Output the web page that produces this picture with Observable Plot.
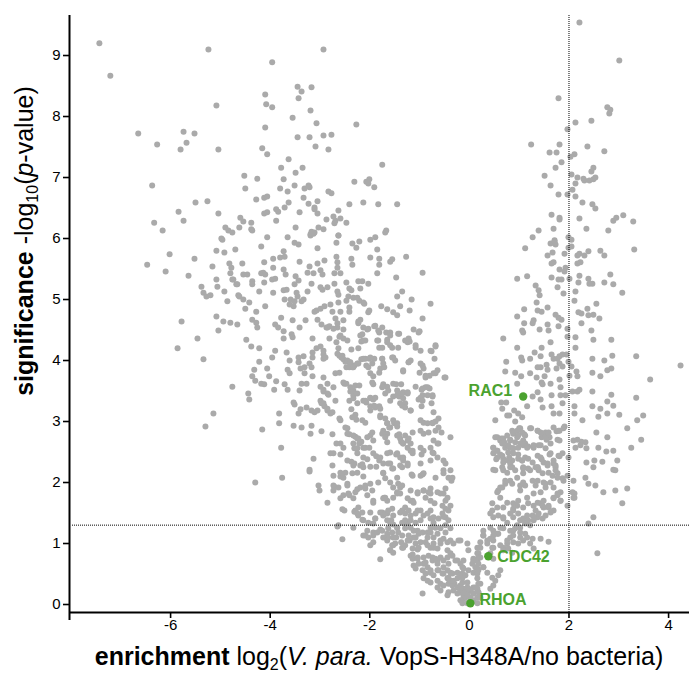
<!DOCTYPE html>
<html>
<head>
<meta charset="utf-8">
<script src="https://cdn.jsdelivr.net/npm/d3@7"></script>
<script src="https://cdn.jsdelivr.net/npm/@observablehq/plot@0.6"></script>
<style>
  body { margin: 0; background: #fff; }
  #chart { width: 689px; height: 675px; }
</style>
</head>
<body>
<div id="chart"></div>
<script>
// Volcano plot: enrichment (log2 fold change) vs significance (-log10 p)
// Each protein is [log2 enrichment, -log10(p-value)].

const xTicks = [-6, -4, -2, 0, 2, 4];
const yTicks = [0, 1, 2, 3, 4, 5, 6, 7, 8, 9];
const foldCutoff = 2;      // log2 enrichment threshold
const pCutoff = 0.05;      // significance threshold

// far-left, strongly depleted proteins
const upperLeft = [
  [-7.43,9.20],[-7.21,8.67],[-5.24,9.10],[-5.08,8.18],[-6.65,7.72],[-6.27,7.54],[-5.74,7.75],[-5.52,7.72],
  [-5.68,7.57],[-5.80,7.46],[-5.04,7.46],[-6.37,6.87],[-5.50,6.59],[-5.26,6.61],[-5.84,6.44],[-5.04,6.41],
  [-6.33,6.26],[-5.74,6.29],[-6.16,6.13],[-4.90,6.18],[-4.84,6.13],[-4.76,6.10],[-4.98,6.00],[-4.62,6.18],
  [-4.60,6.34],[-6.47,5.57],[-6.02,5.74],[-6.10,5.46],[-5.52,5.67],[-5.64,5.39],[-5.08,5.80],[-4.92,5.77],
  [-4.96,5.98],[-5.16,5.54],[-4.82,5.59],[-4.78,5.52],[-4.80,5.43],[-5.38,5.21],[-5.34,5.11],[-5.28,5.05],
  [-5.20,5.07],[-5.08,5.33],[-5.06,5.21],[-4.92,5.13],[-4.76,5.33],[-4.68,5.25],[-4.86,4.97],[-4.64,5.07],
  [-5.78,4.64],[-5.08,4.72],[-4.94,4.64],[-4.80,4.62],[-4.66,4.59],[-5.04,4.49],[-5.46,4.36],[-5.86,4.20],
  [-5.34,4.02],[-4.76,3.57],[-5.14,3.13],[-5.30,2.92],[-4.70,5.82],[-4.56,5.59],[-4.54,5.41],[-4.74,5.33],
  [-4.66,5.25],[-4.62,5.05],[-4.54,5.00],[-4.54,6.28]
];

// depleted proteins with high significance
const upperCenter = [
  [-2.93,9.10],[-3.96,8.89],[-3.45,8.49],[-3.37,8.41],[-3.17,8.48],[-3.43,8.30],[-4.10,8.36],[-4.08,8.20],
  [-3.96,8.15],[-3.19,8.10],[-3.55,7.98],[-3.07,7.89],[-2.27,7.87],[-4.10,7.82],[-3.45,7.66],[-3.21,7.66],
  [-2.93,7.69],[-2.77,7.70],[-3.09,7.51],[-2.83,7.46],[-4.16,7.48],[-4.06,7.38],[-3.63,7.30],[-3.78,7.16],
  [-3.35,7.16],[-1.75,7.21],[-3.49,7.08],[-4.52,7.03],[-4.26,6.98],[-3.73,6.97],[-2.31,6.93],[-2.07,6.93],
  [-2.01,6.97],[-2.03,6.90],[-1.91,6.84],[-4.50,6.82],[-3.80,6.82],[-3.51,6.87],[-3.65,6.77],[-3.31,6.82],
  [-3.23,6.87],[-3.21,6.84],[-2.83,6.77],[-2.77,6.74],[-4.28,6.64],[-4.12,6.67],[-4.06,6.69],[-3.33,6.67],
  [-3.63,6.59],[-3.23,6.57],[-3.05,6.61],[-2.41,6.56],[-2.13,6.59],[-1.83,6.56],[-1.45,6.56],[-3.71,6.51],
  [-3.11,6.51],[-3.11,6.48],[-2.63,6.46],[-4.12,6.41],[-4.06,6.43],[-3.88,6.48],[-3.84,6.44],[-3.41,6.43],
  [-3.05,6.41],[-4.38,6.26],[-3.88,6.29],[-2.87,6.31],[-2.73,6.36],[-2.69,6.29],[-2.71,6.25],[-2.59,6.33],
  [-2.47,6.26],[-4.38,6.15],[-3.49,6.18],[-3.03,6.18],[-3.17,6.11],[-3.11,6.10],[-3.19,6.05],[-2.93,6.15],
  [-2.63,6.05],[-1.67,6.13],[-1.69,6.10],[-4.06,6.02],[-3.65,6.02],[-1.99,5.98],[-1.89,6.02]
];

// depleted proteins, moderate significance
const middleLeft = [
  [-4.36,6.13],[-3.51,5.93],[-3.43,5.90],[-3.19,6.07],[-3.13,6.08],[-2.63,6.05],[-2.67,5.93],[-2.35,5.92],
  [-2.27,5.85],[-2.21,5.95],[-4.18,5.87],[-3.05,5.84],[-1.85,5.82],[-4.12,5.61],[-3.94,5.67],[-3.80,5.69],
  [-3.71,5.70],[-3.73,5.79],[-3.94,5.52],[-3.73,5.49],[-3.69,5.41],[-3.41,5.62],[-3.21,5.54],[-3.05,5.59],
  [-2.91,5.64],[-2.67,5.70],[-2.65,5.61],[-2.65,5.52],[-2.37,5.67],[-2.35,5.57],[-1.99,5.69],[-1.81,5.67],
  [-1.81,5.57],[-1.59,5.62],[-1.55,5.66],[-1.27,5.70],[-4.18,5.43],[-4.14,5.44],[-4.46,5.41],[-3.90,5.34],
  [-3.96,5.33],[-1.85,5.43],[-0.94,5.44],[-1.47,5.36],[-4.36,5.30],[-4.36,5.25],[-4.10,5.41],[-4.12,5.28],
  [-3.49,5.38],[-3.51,5.25],[-3.43,5.31],[-3.25,5.44],[-3.13,5.43],[-2.99,5.48],[-2.95,5.41],[-2.71,5.43],
  [-2.59,5.43],[-3.17,5.26],[-2.99,5.20],[-2.95,5.16],[-2.85,5.20],[-2.71,5.26],[-2.47,5.28],[-2.41,5.18],
  [-2.37,5.15],[-2.23,5.30],[-2.15,5.30],[-2.19,5.18],[-2.03,5.26],[-3.94,5.11],[-3.73,5.15],[-3.67,5.16],
  [-3.47,5.11],[-3.45,5.05],[-3.25,5.13],[-2.65,5.13],[-2.63,5.08],[-2.43,5.05],[-4.22,5.13],[-1.35,5.13],
  [-1.45,5.05],[-4.42,4.95],[-4.50,4.85],[-4.10,4.89],[-4.28,4.80],[-3.71,5.00],[-3.59,5.00],[-3.37,4.97],
  [-3.33,5.00],[-3.61,4.92],[-3.51,4.97],[-3.53,4.89],[-3.07,4.82],[-2.99,4.85],[-2.91,4.89],[-3.11,4.80],
  [-2.79,4.92],[-2.63,4.95],[-2.47,4.98],[-2.75,4.80],[-2.59,4.80],[-2.41,4.80],[-2.33,5.03],[-2.25,5.03],
  [-2.21,4.98],[-2.13,4.95],[-2.11,4.93],[-2.41,4.87],[-2.03,4.79],[-2.01,4.82],[-2.19,4.67],[-2.23,4.64],
  [-1.77,4.89],[-1.65,4.84],[-1.53,4.79],[-1.45,4.74],[-1.39,4.89],[-1.20,4.82],[-1.16,5.00],[-0.78,4.93],
  [-0.94,4.69],[-4.36,4.67],[-4.28,4.62],[-4.26,4.54],[-3.90,4.59],[-3.84,4.54],[-3.78,4.70],[-3.55,4.66],
  [-3.41,4.54],[-3.29,4.66],[-3.05,4.67],[-2.97,4.59],[-2.87,4.54],[-2.81,4.56],[-2.69,4.69],[-2.53,4.66],
  [-2.65,4.54],[-2.05,4.51],[-1.91,4.56],[-1.81,4.46],[-1.67,4.46],[-1.59,4.46],[-1.41,4.44],[-1.12,4.51],
  [-1.00,4.48],[-3.73,4.48],[-3.57,4.43],[-3.73,4.36],[-3.55,4.38],[-4.48,4.34],[-4.38,4.23],[-4.22,4.20],
  [-3.15,4.36],[-3.07,4.20],[-2.99,4.23],[-2.81,4.36],[-2.67,4.30],[-2.61,4.39],[-2.53,4.51],[-2.37,4.18],
  [-2.23,4.20],[-2.17,4.31],[-2.09,4.33],[-2.15,4.43],[-1.85,4.33],[-1.81,4.21],[-1.65,4.34],[-1.59,4.25],
  [-1.55,4.21],[-1.75,4.21],[-1.43,4.21],[-1.29,4.33],[-1.20,4.31],[-1.08,4.21],[-0.76,4.15],[-0.68,4.23],
  [-3.90,4.16],[-3.67,4.13],[-4.22,3.98],[-3.96,4.05],[-3.61,4.00],[-3.43,4.05],[-3.33,4.07],[-3.15,4.13],
  [-3.15,4.05],[-2.93,4.10],[-2.93,4.03],[-2.63,4.20],[-2.61,4.08],[-2.57,4.05],[-2.53,4.02],[-2.49,3.98],
  [-2.41,3.97],[-2.39,3.93],[-2.35,3.89],[-2.31,3.92],[-2.23,3.95],[-2.17,4.02],[-2.09,4.03],[-2.01,4.03],
  [-1.91,4.03],[-1.75,4.03],[-1.53,4.05],[-1.22,3.97],[-1.18,4.00],[-0.94,3.92],[-0.70,4.03],[-4.32,3.85],
  [-4.06,3.87],[-3.65,3.85],[-3.43,3.97],[-3.39,3.87],[-3.31,3.89],[-3.21,3.95],[-3.17,3.89],[-3.61,3.79],
  [-3.31,3.79],[-3.15,3.74],[-2.93,3.72],[-2.69,3.79],[-2.61,3.80],[-2.47,3.89],[-2.41,3.89],[-2.07,3.92],
  [-2.03,3.89],[-1.99,3.79],[-1.93,3.74],[-1.79,3.87],[-1.71,3.89],[-1.81,3.80],[-1.33,3.82],[-1.00,3.80],
  [-0.88,3.72],[-0.80,3.75],[-0.68,3.79],[-0.50,3.72],[-4.36,3.74],[-4.30,3.67],[-4.18,3.62],[-4.12,3.61],
  [-4.02,3.74],[-3.92,3.52],[-3.88,3.66],[-3.71,3.61],[-3.65,3.52],[-3.41,3.51],[-3.37,3.62],[-3.27,3.62],
  [-2.99,3.57],[-2.93,3.52],[-2.93,3.49],[-2.85,3.46],[-2.51,3.62],[-2.47,3.62],[-2.39,3.49],[-2.33,3.43],
  [-2.29,3.59],[-2.21,3.59],[-1.95,3.64],[-1.93,3.61],[-1.73,3.61],[-1.65,3.57],[-1.53,3.62],[-1.47,3.61],
  [-1.37,3.61],[-1.45,3.51],[-1.33,3.48],[-1.24,3.46],[-1.08,3.57],[-0.96,3.52],[-0.88,3.56],[-0.80,3.54],
  [-0.74,3.41],[-4.44,3.46],[-4.42,3.36],[-3.53,3.31],[-3.51,3.28],[-3.39,3.20],[-3.43,3.13],[-3.27,3.23],
  [-3.17,3.18],[-3.11,3.15],[-3.05,3.18],[-2.99,3.34],[-2.97,3.30],[-2.91,3.25],[-2.85,3.18],[-2.75,3.15],
  [-2.83,3.44],[-2.69,3.34],[-2.41,3.34],[-2.37,3.20],[-2.29,3.11],[-2.25,3.30],[-2.13,3.34],[-2.07,3.31],
  [-1.99,3.39],[-1.93,3.36],[-1.99,3.25],[-1.91,3.26],[-1.81,3.25],[-1.69,3.46],[-1.53,3.41],[-1.41,3.41],
  [-1.39,3.44],[-1.33,3.38],[-1.35,3.26],[-1.29,3.30],[-1.18,3.18],[-1.02,3.36],[-0.94,3.43],[-0.96,3.25],
  [-0.76,3.30],[-0.72,3.15],[-3.82,3.13],[-3.82,2.97],[-4.16,2.87],[-3.78,2.57],[-3.53,2.93],[-3.37,2.90],
  [-3.19,2.80],[-3.17,2.93],[-2.97,2.84],[-2.75,2.79],[-2.67,2.64],[-2.61,3.05],[-2.45,2.89],[-2.41,2.79],
  [-2.35,3.07],[-2.27,3.03],[-2.15,3.02],[-2.09,2.98],[-2.29,2.75],[-2.23,2.72],[-2.17,2.67],[-2.21,2.64],
  [-2.09,2.57],[-2.01,2.57],[-1.95,2.82],[-1.79,3.10],[-1.65,2.97],[-1.61,2.90],[-1.73,2.85],[-1.65,2.80],
  [-1.51,2.97],[-1.45,2.92],[-1.41,2.79],[-1.37,2.67],[-1.33,2.64],[-1.24,2.69],[-1.18,2.64],[-1.14,2.82],
  [-0.92,2.98],[-0.74,2.97],[-0.68,3.00],[-0.62,3.05],[-0.56,2.82],[-0.38,2.74],[-0.62,2.64],[-0.78,2.57],
  [-0.74,2.49],[-0.98,2.85],[-0.96,2.46],[-0.52,2.36],[-3.13,2.39],[-2.79,2.48],[-2.59,2.46],[-2.53,2.57],
  [-2.45,2.36],[-2.37,2.34],[-2.31,2.56],[-2.25,2.48],[-2.13,2.41],[-2.05,2.38],[-1.87,2.43],[-1.81,2.36],
  [-1.73,2.31],[-1.59,2.49],[-1.47,2.46],[-1.39,2.41],[-1.33,2.36],[-1.24,2.31],[-1.14,2.52],[-3.21,2.21]
];

// dense core of the depleted arm
const centerCore = [
  [-2.85,4.54],[-2.73,4.52],[-2.65,4.61],[-2.59,4.41],[-2.53,4.36],[-2.45,4.33],[-2.23,4.61],[-2.13,4.54],
  [-2.03,4.52],[-2.19,4.41],[-2.13,4.33],[-1.89,4.57],[-1.83,4.49],[-1.75,4.54],[-1.83,4.33],[-1.65,4.30],
  [-1.59,4.41],[-1.43,4.44],[-1.24,4.30],[-1.22,4.36],[-1.02,4.46],[-1.08,4.25],[-0.98,4.16],[-0.78,4.16],
  [-0.68,4.25],[-2.93,4.16],[-2.89,4.05],[-2.65,4.11],[-2.55,4.08],[-2.45,4.00],[-2.39,3.97],[-2.33,3.89],
  [-2.25,3.95],[-2.13,4.03],[-1.99,4.05],[-1.95,3.95],[-1.75,4.03],[-1.73,3.95],[-1.55,4.05],[-1.49,4.00],
  [-1.33,3.84],[-1.22,3.97],[-0.98,3.95],[-0.92,3.87],[-0.88,3.75],[-0.72,3.79],[-0.64,3.84],[-0.48,3.72],
  [-2.85,3.62],[-2.73,3.56],[-2.53,3.64],[-2.39,3.56],[-2.33,3.51],[-2.33,3.38],[-2.25,3.46],[-2.09,3.34],
  [-1.99,3.38],[-1.89,3.39],[-1.99,3.18],[-1.89,3.23],[-1.79,3.21],[-1.75,3.56],[-1.63,3.51],[-1.59,3.34],
  [-1.45,3.43],[-1.35,3.46],[-1.24,3.48],[-1.39,3.30],[-1.29,3.23],[-1.18,3.18],[-0.98,3.39],[-0.94,3.34],
  [-0.84,3.43],[-0.94,3.54],[-0.84,3.56],[-0.74,3.43],[-2.93,3.30],[-2.85,3.21],[-2.79,3.13],[-2.59,3.02],
  [-2.49,2.90],[-2.45,2.80],[-2.33,2.77],[-2.25,2.72],[-2.19,2.66],[-2.13,2.57],[-2.33,2.64],[-2.25,2.56],
  [-2.05,2.74],[-1.99,2.77],[-1.93,2.69],[-1.79,3.07],[-1.69,3.05],[-1.65,2.97],[-1.59,2.90],[-1.53,3.02],
  [-1.45,2.97],[-1.75,2.80],[-1.69,2.74],[-1.65,2.66],[-1.45,2.77],[-1.39,2.72],[-1.33,2.64],[-1.29,2.77],
  [-1.22,2.72],[-1.24,2.57],[-1.18,2.52],[-1.14,2.48],[-0.98,3.02],[-0.84,2.97],[-0.74,2.98],[-0.92,2.80],
  [-0.82,2.82],[-0.68,2.85],[-0.62,2.90],[-0.72,2.69],[-0.64,2.64],[-0.98,2.57],[-0.92,2.52],[-1.93,2.48],
  [-1.79,2.41],[-1.65,2.48],[-2.59,2.64],[-2.73,2.48],[-1.45,2.48],[-1.33,2.41],[-0.72,2.48],[-0.64,2.41]
];

// depleted side, low significance down to the valley
const lowerLeft = [
  [-4.30,2.00],[-3.76,2.08],[-3.21,2.18],[-3.03,1.95],[-3.01,1.87],[-2.85,1.67],[-2.75,2.28],[-2.59,2.10],
  [-2.49,2.16],[-2.71,1.93],[-2.63,1.92],[-2.45,1.98],[-2.41,1.79],[-2.59,1.74],[-2.63,1.30],[-2.65,1.28],
  [-2.55,1.07],[-2.55,1.56],[-2.51,1.54],[-2.35,2.15],[-2.25,2.16],[-2.13,2.25],[-2.31,2.31],[-2.19,2.28],
  [-1.99,2.26],[-1.87,2.26],[-2.29,1.84],[-2.25,1.89],[-2.09,1.90],[-2.05,1.79],[-2.31,1.52],[-2.23,1.46],
  [-2.15,1.39],[-1.99,1.51],[-1.89,1.41],[-2.09,1.13],[-2.03,1.10],[-1.93,1.18],[-1.79,0.74],[-1.83,2.00],
  [-1.73,2.15],[-1.93,1.67],[-1.71,1.75],[-1.65,1.70],[-1.53,1.75],[-1.45,1.82],[-1.39,1.92],[-1.59,2.31],
  [-1.53,2.23],[-1.39,2.28],[-1.16,2.13],[-0.94,2.13],[-1.79,1.51],[-1.73,1.46],[-1.65,1.49],[-1.57,1.38],
  [-1.53,1.31],[-1.45,1.26],[-1.33,1.34],[-1.24,1.33],[-1.18,1.26],[-1.79,1.23],[-1.65,1.16],[-1.63,1.10],
  [-1.47,1.10],[-1.37,1.02],[-1.33,0.93],[-1.59,0.89],[-1.53,0.97],[-1.20,1.05],[-1.12,1.10],[-1.08,1.00],
  [-1.04,0.90],[-1.14,0.82],[-1.04,0.75],[-0.94,0.18],[-0.92,0.67],[-0.84,0.61],[-0.78,0.52],[-0.74,0.77],
  [-0.64,0.72],[-0.62,0.56],[-0.54,0.51],[-0.44,0.43],[-0.52,0.61],[-0.38,0.52],[-0.38,0.39],[-0.30,0.34],
  [-0.22,0.28],[-0.18,0.23],[-0.12,0.18],[-0.08,0.11],[-0.64,0.28],[-0.58,0.23],[-0.14,0.51],[-0.18,0.67],
  [-0.72,0.93],[-0.58,1.00],[-0.44,1.02],[-1.04,1.21],[-0.94,1.18],[-0.84,1.18],[-0.78,1.26],[-0.72,1.34],
  [-0.62,1.41],[-0.52,1.44],[-0.42,1.54],[-0.38,1.62],[-0.48,1.70],[-0.52,1.82],[-1.04,1.82],[-0.92,1.87],
  [-0.78,1.82],[-0.52,2.15],[-0.42,2.08],[-0.36,2.03],[-1.18,1.70],[-1.29,1.59],[-1.39,1.51],[-1.08,1.49],
  [-0.98,1.54],[-0.78,1.54],[-0.70,1.66],[-0.44,0.89],[-0.38,0.84],[-0.24,0.72],[-0.18,1.05]
];

// crowded valley between the two arms
const valleyLeft = [
  [-2.33,2.28],[-2.15,2.30],[-1.63,2.31],[-1.55,2.23],[-1.35,2.25],[-1.24,2.28],[-0.98,2.31],[-0.78,2.36],
  [-0.48,2.31],[-0.52,2.20],[-2.73,2.11],[-2.59,2.16],[-2.53,2.08],[-2.13,2.10],[-1.73,2.16],[-1.69,2.07],
  [-1.45,2.08],[-1.43,1.98],[-1.14,2.11],[-0.98,2.11],[-0.92,2.15],[-0.68,2.08],[-0.38,2.20],[-0.34,2.08],
  [-2.73,1.95],[-2.45,1.95],[-2.43,1.82],[-2.19,1.92],[-2.09,1.95],[-1.99,1.98],[-1.95,1.87],[-1.59,2.00],
  [-1.53,1.92],[-1.45,1.84],[-1.35,1.95],[-1.39,1.82],[-1.18,1.87],[-1.04,1.84],[-0.92,1.87],[-0.82,1.84],
  [-0.78,1.90],[-0.64,1.84],[-0.58,1.82],[-0.48,1.90],[-0.44,1.75],[-2.73,1.87],[-2.53,1.79],[-2.33,1.74],
  [-1.73,1.74],[-1.69,1.75],[-1.24,1.74],[-1.14,1.70],[-1.12,1.67],[-0.88,1.75],[-0.78,1.70],[-2.29,1.54],
  [-2.25,1.49],[-2.15,1.51],[-2.23,1.59],[-1.93,1.70],[-1.75,1.51],[-1.69,1.49],[-1.63,1.54],[-1.55,1.57],
  [-1.53,1.46],[-1.35,1.54],[-1.29,1.49],[-1.22,1.54],[-1.18,1.46],[-1.04,1.54],[-0.92,1.46],[-0.84,1.49],
  [-0.78,1.41],[-0.72,1.43],[-0.54,1.62],[-0.48,1.57],[-0.54,1.49],[-0.48,1.43],[-0.42,1.38],[-2.13,1.38],
  [-2.03,1.34],[-1.89,1.41],[-1.93,1.33],[-1.65,1.38],[-1.59,1.34],[-1.35,1.34],[-1.29,1.38],[-1.18,1.38],
  [-1.08,1.34],[-0.98,1.38],[-2.33,1.26],[-2.05,1.21],[-2.13,1.13],[-1.93,1.13],[-1.85,1.18],[-1.75,1.21],
  [-1.73,1.10],[-1.65,1.05],[-1.63,1.25],[-1.55,1.18],[-1.53,1.10],[-1.45,1.26],[-1.43,1.18],[-1.35,1.13],
  [-1.29,1.25],[-1.24,1.05],[-1.22,1.13],[-1.12,1.21],[-1.08,1.10],[-1.02,1.16],[-0.98,1.02],[-0.88,1.02],
  [-0.84,1.10],[-0.78,1.18],[-0.72,1.10],[-0.64,1.16],[-0.58,1.05],[-0.52,1.08],[-0.68,1.26],[-0.58,1.25],
  [-0.48,1.30],[-0.48,1.18],[-0.38,1.25],[-1.99,0.97],[-1.93,1.02],[-1.55,0.97],[-1.49,1.00],[-1.35,0.93],
  [-1.29,0.97],[-1.14,0.92],[-1.02,0.93],[-0.84,0.97],[-0.78,0.93],[-0.72,1.00],[-0.64,0.92],[-0.38,1.05],
  [-0.32,1.00],[-0.22,1.05],[-0.04,1.00],[-0.02,0.89],[-1.59,0.89],[-1.53,0.85],[-1.18,0.80],[-1.14,0.75],
  [-1.04,0.77],[-1.02,0.67],[-0.92,0.77],[-0.88,0.69],[-0.82,0.80],[-1.12,0.64],[-1.08,0.59],[-0.74,0.72],
  [-0.68,0.75],[-0.64,0.67],[-0.58,0.77],[-0.52,0.72],[-0.44,0.77],[-0.42,0.67],[-0.34,0.80],[-0.28,0.72],
  [-0.14,0.61],[-0.12,0.72],[0.16,0.72],[0.18,0.84],[-0.94,0.56],[-0.88,0.51],[-0.78,0.56],[-0.72,0.48],
  [-0.64,0.56],[-0.52,0.51],[-0.44,0.56],[-0.42,0.44],[-0.34,0.51],[-0.24,0.52],[-0.18,0.48],[-0.24,0.43],
  [-0.02,0.56],[0.08,0.52],[0.16,0.59],[-0.92,0.43],[-0.84,0.39],[-0.78,0.36],[-0.64,0.39],[-0.58,0.34],
  [-0.52,0.31],[-0.42,0.34],[-0.34,0.31],[-0.32,0.39],[-0.24,0.28],[-0.18,0.31],[-0.12,0.26],[-0.14,0.36],
  [-0.04,0.28],[0.02,0.23],[0.08,0.28],[0.16,0.26],[-0.42,0.20],[-0.32,0.23],[-0.24,0.18],[-0.18,0.20],
  [-0.12,0.15],[-0.04,0.18],[0.02,0.11],[-0.12,0.10],[0.08,0.18],[0.16,0.11],[0.18,0.20],[-0.44,0.15],
  [-0.18,0.07],[-0.14,0.02],[-0.04,0.02],[0.08,0.07],[0.16,0.02],[0.16,0.43],[0.18,0.34],[0.16,0.51]
];

// enriched side, high significance
const upperRight = [
  [2.21,9.54],[3.01,8.92],[1.79,8.30],[2.77,8.15],[2.83,8.11],[2.81,8.05],[2.13,7.90],[2.45,7.93],
  [1.97,7.79],[1.24,7.54],[1.81,7.54],[2.37,7.51],[1.61,7.41],[1.75,7.41],[2.71,7.43],[2.03,7.34],
  [2.11,7.38],[1.85,7.25],[1.73,7.16],[2.49,7.16],[2.45,7.10],[1.51,7.03],[2.05,7.05],[2.17,7.00],
  [2.29,6.98],[2.31,6.95],[2.13,6.90],[2.41,6.95],[2.49,6.97],[2.53,7.00],[1.63,6.87],[2.07,6.80],
  [1.79,6.72],[1.97,6.72],[2.13,6.69],[2.27,6.59],[2.47,6.56],[2.53,6.49],[1.65,6.39],[1.81,6.34],
  [1.81,6.31],[2.21,6.33],[3.09,6.38],[2.95,6.34],[2.89,6.29],[3.29,6.28],[1.39,6.13],[1.69,6.16],
  [2.35,6.16],[2.79,6.13],[1.27,6.02],[1.71,5.97],[1.99,6.02],[2.05,5.98]
];

// enriched side, moderate significance
const middleRight = [
  [1.12,5.84],[1.63,5.92],[1.71,5.95],[1.73,5.90],[1.99,5.85],[2.05,5.87],[1.57,5.72],[1.67,5.77],
  [1.69,5.61],[1.65,5.59],[1.91,5.75],[2.17,5.72],[2.21,5.75],[2.31,5.72],[2.39,5.79],[2.63,5.80],
  [2.71,5.72],[3.31,5.82],[2.17,5.59],[2.23,5.61],[1.93,5.52],[1.91,5.46],[1.81,5.49],[1.16,5.38],
  [0.96,5.34],[1.65,5.36],[1.79,5.33],[1.85,5.33],[2.01,5.34],[2.21,5.39],[2.39,5.34],[2.41,5.26],
  [2.47,5.26],[2.19,5.28],[2.71,5.28],[2.83,5.41],[2.89,5.25],[3.07,5.11],[1.33,5.23],[1.39,5.15],
  [1.41,5.07],[1.77,5.20],[1.89,5.10],[2.13,5.13],[2.11,4.98],[1.35,4.95],[1.57,4.87],[1.10,4.84],
  [1.37,4.82],[1.45,4.80],[1.73,4.75],[1.79,4.70],[1.85,4.67],[0.96,4.72],[1.29,4.66],[1.27,4.61],
  [1.41,4.51],[1.57,4.59],[1.59,4.49],[1.10,4.61],[1.06,4.49],[1.08,4.46],[2.19,4.79],[2.25,4.77],
  [2.37,4.85],[2.39,4.74],[2.49,4.75],[2.61,4.69],[2.25,4.61],[1.79,4.56],[1.97,4.52],[2.45,4.49],
  [2.55,4.93],[0.68,4.36],[0.96,4.21],[1.63,4.30],[1.97,4.39],[2.13,4.38],[2.49,4.34],[2.85,4.34],
  [2.13,4.21],[1.45,4.21],[1.04,4.05],[1.06,4.00],[1.22,4.03],[1.31,4.13],[1.43,4.07],[1.65,4.10],
  [1.69,4.03],[1.77,4.03],[1.81,4.07],[1.87,4.10],[1.95,4.10],[1.99,3.98],[2.05,3.90],[2.47,4.03],
  [2.71,4.00],[2.87,4.08],[3.35,4.07],[4.24,3.92],[0.74,3.98],[0.72,3.82],[0.92,3.80],[1.04,3.74],
  [1.22,3.79],[1.37,3.89],[1.43,3.89],[1.35,3.72],[1.55,3.93],[1.57,3.85],[1.75,3.87],[1.81,3.95],
  [1.87,3.90],[1.51,3.74],[1.63,3.62],[1.81,3.69],[2.01,3.75],[2.15,3.82],[2.17,3.74],[2.47,3.80],
  [2.63,3.74],[2.77,3.84],[2.85,3.87],[3.63,3.69],[0.96,3.62],[1.45,3.64],[1.47,3.61],[1.37,3.48],
  [1.27,3.41],[1.65,3.43],[1.83,3.56],[1.83,3.43],[1.93,3.43],[2.07,3.49],[2.17,3.49],[2.21,3.52],
  [2.47,3.49],[2.85,3.44],[3.35,3.39],[0.64,3.31],[0.74,3.31],[1.16,3.25],[1.43,3.36],[1.47,3.23],
  [1.65,3.25],[1.69,3.13],[1.81,3.13],[1.87,3.30],[2.11,3.25],[2.47,3.25],[2.77,3.33],[2.89,3.26],
  [0.66,3.21],[0.76,3.10],[0.80,3.10],[0.90,3.18],[0.98,3.13],[1.06,3.07],[0.52,3.02],[0.92,3.00],
  [2.11,3.13],[2.27,3.02],[2.59,3.08],[2.63,3.21],[2.77,3.13],[3.01,3.11],[3.37,3.02],[3.49,3.10],
  [1.24,2.89],[1.37,2.85],[1.00,2.89],[1.06,2.82],[1.10,2.79],[0.86,2.85],[0.88,2.80],[0.96,2.74],
  [0.56,2.74],[0.64,2.72],[0.70,2.66],[0.48,2.57],[1.43,2.82],[1.53,2.82],[1.45,2.74],[1.61,2.74],
  [1.75,2.84],[1.81,2.85],[1.91,2.92],[1.89,2.89],[1.08,2.69],[1.12,2.64],[1.02,2.64],[0.82,2.70],
  [0.82,2.57],[0.88,2.56],[1.18,2.59],[1.29,2.57],[1.39,2.61],[1.55,2.70],[1.63,2.64],[1.77,2.70],
  [1.81,2.69],[2.17,2.70],[2.25,2.67],[2.13,2.57],[2.35,2.56],[2.55,2.82],[2.77,2.74],[2.59,2.57],
  [2.75,2.51],[2.89,2.52],[3.17,2.89],[3.25,2.57],[3.45,2.70],[0.56,2.52],[0.62,2.46],[0.68,2.39],
  [0.54,2.38],[0.78,2.49],[0.80,2.41],[0.86,2.36],[0.98,2.46],[1.06,2.36],[1.37,2.44],[1.45,2.38],
  [1.61,2.46],[1.81,2.43],[1.99,2.41],[2.35,2.33],[2.51,2.36],[2.67,2.34],[2.97,2.36],[0.48,2.21],
  [0.66,2.25],[0.86,2.25],[1.08,2.23],[1.37,2.25],[1.73,2.25],[2.49,2.25],[2.89,2.21]
];

// enriched side, low significance
const lowerRight = [
  [2.57,0.84],[2.39,1.33],[2.49,1.43],[2.33,2.08],[2.39,1.98],[2.53,1.95],[2.69,1.84],[2.93,1.87],
  [3.17,1.90],[3.07,1.66],[2.93,2.20],[2.09,2.03],[2.11,1.82],[2.11,1.75],[1.97,1.62],[1.83,1.84],
  [1.77,1.82],[1.69,1.74],[1.83,1.70],[1.59,1.59],[1.69,1.54],[1.49,1.59],[1.43,1.66],[1.33,1.54],
  [1.27,1.46],[1.37,1.43],[1.16,1.46],[1.12,1.34],[1.02,1.38],[0.96,1.30],[0.88,1.21],[1.02,1.18],
  [1.16,1.10],[1.27,1.08],[1.43,1.08],[1.59,1.03],[0.82,1.10],[0.76,1.00],[0.68,0.93],[0.76,1.34],
  [0.62,1.26],[0.56,1.16],[0.48,1.05],[0.46,0.93],[0.36,1.00],[0.28,1.13],[0.22,1.02],[0.16,0.93],
  [0.18,0.77],[0.08,0.75],[0.06,0.67],[0.12,0.61],[0.18,0.56],[0.28,0.61],[0.36,0.52],[0.46,0.44],
  [0.52,0.39],[0.48,0.31],[0.42,0.26],[0.62,0.56],[0.58,0.48],[0.22,0.34],[0.12,0.28],[-0.02,0.26],
  [-0.12,0.20],[-0.04,0.15],[0.08,0.18],[0.18,0.20],[0.22,0.11],[-0.18,0.28],[-0.14,0.44],[-0.12,0.59],
  [-0.08,0.48],[-0.04,0.36],[0.42,1.26],[0.48,1.21],[0.28,1.21],[0.68,1.43],[0.82,1.49],[0.88,1.54],
  [0.88,1.66],[0.98,1.70],[1.16,1.75],[1.29,1.82],[1.43,1.84],[1.53,1.92],[0.62,1.92],[0.72,1.98],
  [0.82,2.03],[0.46,1.66],[0.56,1.59],[0.42,1.49],[0.96,2.08],[1.08,2.15],[1.22,2.20],[1.37,2.25],
  [1.57,2.28],[1.69,2.31],[1.77,2.15],[1.89,2.03],[1.37,2.03],[1.49,2.00],[1.12,1.95],[1.02,1.87]
];

// crowded lower part of the enriched arm
const valleyRight = [
  [0.52,2.74],[0.62,2.69],[0.68,2.72],[0.76,2.77],[0.82,2.69],[0.88,2.82],[0.96,2.85],[0.98,2.77],
  [1.02,2.89],[1.12,2.77],[1.22,2.89],[1.37,2.85],[1.47,2.80],[1.53,2.74],[1.59,2.82],[1.69,2.90],
  [1.79,2.85],[2.09,2.69],[2.23,2.61],[2.33,2.66],[0.48,2.57],[0.56,2.52],[0.66,2.64],[0.72,2.57],
  [0.78,2.61],[0.88,2.56],[0.98,2.57],[1.08,2.61],[1.16,2.57],[0.92,2.66],[1.29,2.61],[1.43,2.61],
  [1.53,2.56],[1.63,2.48],[1.79,2.44],[1.87,2.48],[0.48,2.48],[0.56,2.41],[0.66,2.44],[0.68,2.33],
  [0.78,2.36],[0.82,2.31],[0.88,2.48],[0.98,2.39],[1.06,2.36],[1.12,2.41],[1.18,2.39],[1.27,2.33],
  [1.43,2.41],[1.49,2.33],[1.57,2.31],[1.69,2.36],[1.73,2.28],[0.52,2.20],[0.68,2.20],[0.76,2.16],
  [0.82,2.25],[0.92,2.20],[1.08,2.25],[1.18,2.23],[1.33,2.25],[1.39,2.20],[1.47,2.15],[1.59,2.16],
  [1.67,2.11],[1.73,2.20],[0.72,2.03],[0.66,1.92],[0.58,1.87],[0.86,1.98],[1.02,1.95],[1.08,2.00],
  [1.27,2.03],[1.33,1.95],[1.53,1.98],[1.63,2.00],[1.69,1.92],[1.77,2.08],[1.87,2.07],[1.97,2.11],
  [2.07,1.84],[2.09,1.75],[0.56,1.84],[0.62,1.75],[0.76,1.67],[0.68,1.59],[0.88,1.57],[0.96,1.62],
  [1.08,1.59],[1.18,1.66],[1.29,1.62],[1.37,1.67],[1.47,1.62],[1.49,1.70],[1.59,1.62],[1.69,1.75],
  [1.77,1.79],[1.83,1.70],[0.46,1.54],[0.48,1.43],[0.58,1.46],[0.68,1.41],[0.88,1.43],[0.98,1.49],
  [1.08,1.41],[1.18,1.38],[1.33,1.43],[1.39,1.49],[1.47,1.41],[1.53,1.46],[1.63,1.51],[0.68,1.25],
  [0.58,1.16],[0.48,1.13],[0.82,1.21],[0.92,1.25],[1.02,1.26],[1.12,1.33],[1.22,1.30],[1.29,1.38],
  [0.88,1.13],[1.02,1.10],[1.12,1.16],[0.76,1.05],[0.88,1.02],[0.98,1.00],[1.08,1.05],[0.28,1.13],
  [0.36,1.05],[0.42,1.08],[0.48,0.93],[0.62,0.97],[0.68,0.89],[0.78,0.92],[0.86,0.85],[0.22,0.93],
  [0.16,0.84],[0.22,0.77],[0.42,0.84],[0.48,0.75],[0.08,0.72],[0.18,0.67],[0.28,0.61],[1.22,1.00],
  [1.29,0.92]
];

// named proteins
const highlightNames = ["RAC1", "CDC42", "RHOA"];
const highlightFC = [1.08, 0.38, 0.02];
const highlightSig = [3.41, 0.79, 0.02];

const proteins = [
  ...upperLeft, ...upperCenter, ...middleLeft, ...centerCore, ...lowerLeft, ...valleyLeft,
  ...upperRight, ...middleRight, ...lowerRight, ...valleyRight
].map(([fc, sig]) => ({fc, sig}));
const highlights = highlightNames.map((name, i) => ({name, fc: highlightFC[i], sig: highlightSig[i]}));
const byName = name => highlights.filter(d => d.name === name);

const green = "#4ba22f";
const grey = "#aaaaaa";
const xMin = -8.03, xMax = 4.42;
const yMin = -0.131, yMax = 9.656, yAxisEnd = -0.262;
const font = "'Liberation Sans', Arial, Helvetica, sans-serif";
const labelStyle = {x: "fc", y: "sig", text: "name", fill: green, fontWeight: "bold", fontSize: 16};

const chart = Plot.plot({
  width: 689,
  height: 675,
  marginLeft: 69,
  marginRight: 0,
  marginTop: 15,
  marginBottom: 63,
  x: {domain: [xMin, xMax]},
  y: {domain: [yMin, yMax]},
  style: {fontFamily: font, fontSize: "15px", color: "#000", background: "#fff", overflow: "visible"},
  marks: [
    Plot.dot(proteins, {x: "fc", y: "sig", r: 3, fill: grey, stroke: "none"}),
    Plot.ruleY([-Math.log10(pCutoff)], {x1: -7.97, x2: xMax, stroke: "#000", strokeWidth: 1, strokeDasharray: "1,1"}),
    Plot.ruleX([foldCutoff], {y1: yMin, y2: yMax, stroke: "#000", strokeWidth: 1, strokeDasharray: "1,1"}),
    Plot.dot(highlights, {x: "fc", y: "sig", r: 4.2, fill: green, stroke: "none"}),
    Plot.text(byName("RAC1"), {...labelStyle, textAnchor: "end", dx: -11, dy: -6}),
    Plot.text(byName("CDC42"), {...labelStyle, textAnchor: "start", dx: 9, dy: 1}),
    Plot.text(byName("RHOA"), {...labelStyle, textAnchor: "start", dx: 9, dy: -3}),
    Plot.axisX({ticks: xTicks, tickSize: 6, tickPadding: 1, strokeWidth: 1.6, fontSize: 15, label: null, tickFormat: d => String(d)}),
    Plot.axisY({ticks: yTicks, tickSize: 6, tickPadding: 3, strokeWidth: 1.6, fontSize: 15, label: null, tickFormat: d => String(d)}),
    Plot.ruleX([xMin], {y1: yAxisEnd, y2: yMax, stroke: "#000", strokeWidth: 2}),
    Plot.ruleY([yMin], {x1: xMin, x2: xMax, stroke: "#000", strokeWidth: 2})
  ]
});

// axis titles with mixed weight, italics and subscripts
const svg = d3.select(chart);
const yTitle = svg.append("text")
  .attr("transform", "translate(33,241) rotate(-90)")
  .attr("text-anchor", "middle")
  .attr("font-family", font)
  .attr("font-size", 25)
  .attr("fill", "#000")
  .style("white-space", "pre");
yTitle.append("tspan").attr("font-weight", "bold").text("significance");
yTitle.append("tspan").text(" -log");
yTitle.append("tspan").attr("font-size", 16).attr("dy", 5).text("10");
yTitle.append("tspan").attr("dy", -5).text("(");
yTitle.append("tspan").attr("font-style", "italic").text("p");
yTitle.append("tspan").text("-value)");

const xTitle = svg.append("text")
  .attr("x", 379)
  .attr("y", 665)
  .attr("text-anchor", "middle")
  .attr("font-family", font)
  .attr("font-size", 25)
  .attr("fill", "#000")
  .style("white-space", "pre");
xTitle.append("tspan").attr("font-weight", "bold").text("enrichment");
xTitle.append("tspan").text(" log");
xTitle.append("tspan").attr("font-size", 16).attr("dy", 5).text("2");
xTitle.append("tspan").attr("dy", -5).text("(");
xTitle.append("tspan").attr("font-style", "italic").text("V. para.");
xTitle.append("tspan").text(" VopS-H348A/no bacteria)");

document.getElementById("chart").appendChild(chart);
</script>
</body>
</html>
